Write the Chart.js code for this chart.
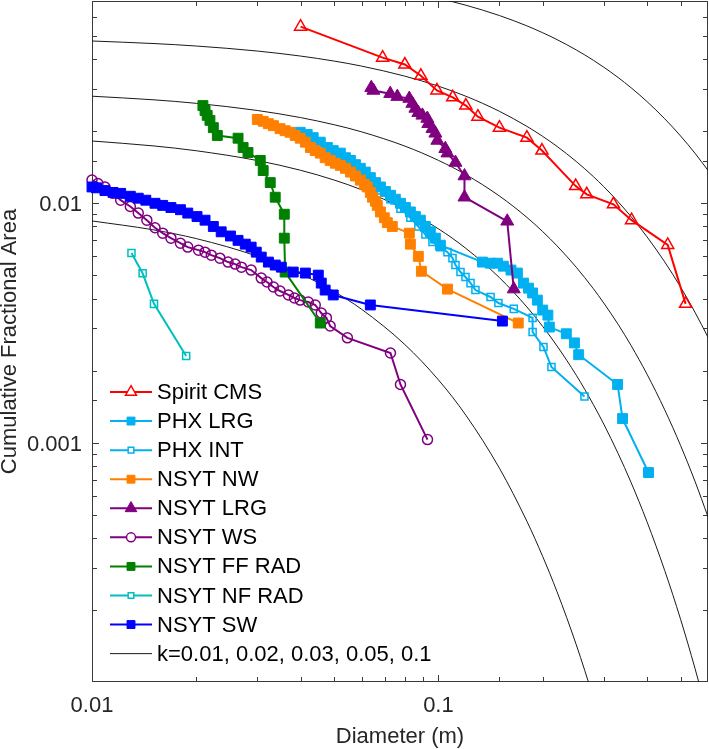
<!DOCTYPE html>
<html>
<head>
<meta charset="utf-8">
<script src="https://cdn.jsdelivr.net/npm/chart.js@4/dist/chart.umd.min.js"></script>
<style>
html,body{margin:0;padding:0;background:#ffffff;}
#wrap{width:709px;height:749px;position:relative;}
</style>
</head>
<body>
<div id="wrap"><canvas id="c" width="709" height="749"></canvas></div>
<script>
// ---------------- DATA ----------------
const seriesNames = ['Spirit CMS','PHX LRG','PHX INT','NSYT NW','NSYT LRG','NSYT WS','NSYT FF RAD','NSYT NF RAD','NSYT SW'];

const spiritD = [0.040,0.069,0.080,0.089,0.099,0.110,0.120,0.130,0.150,0.180,0.199,0.249,0.268,0.320,0.361,0.459,0.517];
const spiritF = [0.0547,0.0406,0.0380,0.0341,0.0296,0.0277,0.0256,0.0230,0.0207,0.0188,0.0166,0.0118,0.0109,0.0099,0.0085,0.0067,0.0038];

const phxLrgD = [0.0399,0.0418,0.0435,0.0456,0.0478,0.0497,0.0521,0.0539,0.0557,0.0576,0.0595,0.0615,0.0636,0.0658,0.0680,0.0703,0.0727,0.0751,0.0777,0.0803,0.0830,0.0858,0.0887,0.0917,0.0948,0.0980,0.1013,0.134,0.141,0.148,0.154,0.162,0.169,0.176,0.182,0.187,0.193,0.200,0.207,0.209,0.234,0.247,0.254,0.329,0.340,0.404];
const phxLrgF = [0.0198,0.0194,0.0188,0.0180,0.0171,0.0166,0.0162,0.0155,0.0151,0.0145,0.0140,0.0135,0.0128,0.0122,0.0117,0.0112,0.0108,0.0104,0.0100,0.0096,0.0092,0.0088,0.0085,0.0080,0.0076,0.00715,0.00668,0.00568,0.00562,0.00562,0.00546,0.00526,0.00511,0.00464,0.00442,0.00422,0.00394,0.00358,0.00341,0.00304,0.00285,0.00261,0.00233,0.00175,0.00126,0.00075];

const phxIntD = [0.0487,0.0521,0.0557,0.0595,0.0636,0.0680,0.0727,0.0777,0.0830,0.0875,0.0917,0.0961,0.1013,0.1062,0.1098,0.1120,0.1158,0.1197,0.1238,0.1279,0.1414,0.149,0.165,0.187,0.187,0.201,0.212,0.264];
const phxIntF = [0.0163,0.0154,0.0144,0.0133,0.0124,0.0113,0.0104,0.0095,0.0087,0.0080,0.0074,0.0069,0.00656,0.00625,0.0059,0.00552,0.00516,0.00492,0.00464,0.00434,0.00406,0.00383,0.00362,0.00332,0.0029,0.00251,0.00207,0.00156];

const nsytNwD = [0.0300,0.0312,0.0323,0.0334,0.0349,0.0361,0.0373,0.0386,0.0399,0.0413,0.0427,0.0441,0.0456,0.0471,0.0487,0.0504,0.0521,0.0539,0.0557,0.0576,0.0595,0.0611,0.0623,0.0636,0.0645,0.0658,0.0666,0.0680,0.0698,0.0712,0.0736,0.0824,0.0830,0.0875,0.0893,0.1062,0.170];
const nsytNwF = [0.0224,0.0220,0.0215,0.0211,0.0205,0.0201,0.0198,0.0192,0.0187,0.0180,0.0171,0.0166,0.0162,0.0155,0.0151,0.0147,0.0144,0.0140,0.0135,0.0130,0.0125,0.0120,0.0117,0.0111,0.0106,0.0102,0.0098,0.0092,0.0087,0.0083,0.0080,0.0075,0.00675,0.0060,0.0052,0.00438,0.00316];

const nsytLrgD = [0.0640,0.0649,0.0726,0.0761,0.0824,0.0841,0.0858,0.0875,0.0899,0.0929,0.0935,0.0961,0.0980,0.0993,0.1047,0.1062,0.1120,0.1189,0.1189,0.158,0.165];
const nsytLrgF = [0.0304,0.0296,0.0287,0.0279,0.0274,0.0261,0.0249,0.0239,0.0233,0.0226,0.0215,0.0205,0.0196,0.0183,0.0169,0.0162,0.0148,0.0130,0.0106,0.00841,0.00438];

const nsytWsD = [0.0100,0.0104,0.0109,0.0115,0.0121,0.0129,0.0136,0.0144,0.0152,0.0160,0.0169,0.0180,0.0189,0.0203,0.0212,0.0221,0.0234,0.0247,0.0259,0.0270,0.0288,0.0308,0.0320,0.0334,0.0349,0.0369,0.0384,0.0399,0.0421,0.0441,0.0459,0.0475,0.0487,0.0546,0.0727,0.0777,0.0930];
const nsytWsF = [0.0125,0.0121,0.0117,0.0110,0.0103,0.0097,0.0091,0.0085,0.0079,0.0075,0.00715,0.00681,0.00656,0.00637,0.00625,0.00607,0.0059,0.00568,0.00557,0.00541,0.00526,0.00487,0.00469,0.00447,0.0043,0.00414,0.00402,0.00394,0.00387,0.00376,0.00348,0.00332,0.00307,0.00274,0.00237,0.00175,0.00103];

const nsytFfD = [0.0209,0.0212,0.0215,0.0219,0.0224,0.0230,0.0264,0.0273,0.0282,0.0306,0.0312,0.0327,0.0338,0.0359,0.0359,0.0361,0.0456];
const nsytFfF = [0.0256,0.0244,0.0233,0.0222,0.0207,0.0192,0.0187,0.0171,0.0163,0.0151,0.0137,0.0122,0.0106,0.0090,0.00715,0.00516,0.00316];

const nsytNfD = [0.0130,0.0140,0.0151,0.0187];
const nsytNfF = [0.0062,0.0051,0.0038,0.0023];

const nsytSwD = [0.0100,0.0103,0.0109,0.0115,0.0121,0.0129,0.0136,0.0143,0.0152,0.0160,0.0169,0.0180,0.0189,0.0201,0.0212,0.0224,0.0236,0.0251,0.0264,0.0277,0.0288,0.0298,0.0308,0.0323,0.0338,0.0352,0.0381,0.0413,0.0450,0.0459,0.0471,0.0497,0.0636,0.153];
const nsytSwF = [0.0117,0.0116,0.0113,0.0111,0.0110,0.0107,0.0105,0.0103,0.0100,0.0098,0.0096,0.0094,0.0091,0.0088,0.0085,0.0080,0.0076,0.0073,0.0070,0.00675,0.00656,0.00625,0.00596,0.00568,0.00552,0.00541,0.00516,0.00511,0.00501,0.00464,0.00434,0.00414,0.00376,0.00322];

// model curves (k values), sampled diameters and cumulative fractional area
const kLabel = 'k=0.01, 0.02, 0.03, 0.05, 0.1';
const kD = [0.01,0.015,0.02,0.03,0.04,0.05,0.06,0.08,0.1,0.12,0.15,0.18,0.2,0.22,0.25,0.28,0.3,0.33,0.36,0.4,0.45,0.5,0.55,0.6];
const k001F = [0.008437,0.00775,0.007119,0.006007,0.005068,0.004276,0.003608,0.002569,0.001829,0.001302,0.000782,0.0004697,0.0003344,0.0002381,0.000143,0.0000859,0.0000612,0.0000367];
const k002F = [0.018208,0.017372,0.016576,0.01509,0.013738,0.012506,0.011386,0.009436,0.00782,0.006482,0.00489,0.00369,0.003058,0.002534,0.001912,0.001443,0.001196,0.000902,0.0006806,0.0004674,0.0002922,0.0001829,0.0001143,0.0000715];
const k003F = [0.028011,0.027069,0.026157,0.02442,0.022803,0.021291,0.019884,0.017334,0.015111,0.013176,0.010725,0.008733,0.007614,0.006639,0.005403,0.004398,0.003834,0.003123,0.002542,0.001932,0.001371,0.000973,0.0006906,0.0004902];
const k005F = [0.047643,0.046506,0.045396,0.043256,0.041216,0.039273,0.037421,0.033976,0.030847,0.028007,0.024228,0.02096,0.019031,0.017279,0.014947,0.012931,0.011741,0.010157,0.008787,0.007244,0.005689,0.004468,0.003509,0.002757];
const k01F = [0.096746,0.095156,0.093594,0.090547,0.0876,0.084747,0.081987,0.076738,0.071819,0.06722,0.060867,0.055115,0.051584,0.04828,0.043714,0.039583,0.037046,0.033546,0.030373,0.026609,0.022548,0.019109,0.016196,0.013722];

// axis ranges and labelled ticks
const xRange = [0.01, 0.6];
const yRange = [0.0001, 0.07];
const xTickLabels = [0.01, 0.1];
const yTickLabels = [0.001, 0.01];

// ---------------- STYLE ----------------
const FONT = '"Liberation Sans", Arial, Helvetica, sans-serif';
const TXT = '#262626';
const styles = [
  {color:'#FF0000', style:'triangle', r:7,   fill:false, bw:1.5},
  {color:'#00B0F0', style:'rect',     r:7,   fill:true,  bw:1},
  {color:'#00B0F0', style:'rect',     r:5,   fill:false, bw:1.5},
  {color:'#FF8000', style:'rect',     r:7,   fill:true,  bw:1},
  {color:'#800080', style:'triangle', r:7.5, fill:true,  bw:1},
  {color:'#800080', style:'circle',   r:5,   fill:false, bw:1.5},
  {color:'#008000', style:'rect',     r:7,   fill:true,  bw:1},
  {color:'#00BFBF', style:'rect',     r:5,   fill:false, bw:1.5},
  {color:'#0000FF', style:'rect',     r:7,   fill:true,  bw:1}
];
const seriesD = [spiritD, phxLrgD, phxIntD, nsytNwD, nsytLrgD, nsytWsD, nsytFfD, nsytNfD, nsytSwD];
const seriesF = [spiritF, phxLrgF, phxIntF, nsytNwF, nsytLrgF, nsytWsF, nsytFfF, nsytNfF, nsytSwF];
const kCurves = [k001F, k002F, k003F, k005F, k01F];

const datasets = [];
seriesNames.forEach((name, i) => {
  const s = styles[i];
  datasets.push({
    label: name,
    data: seriesD[i].map((d, j) => ({x: d, y: seriesF[i][j]})),
    showLine: true,
    borderColor: s.color,
    backgroundColor: s.color,
    borderWidth: 2,
    pointStyle: s.style,
    pointRadius: s.r,
    pointHoverRadius: s.r,
    pointBorderWidth: s.bw,
    pointBorderColor: s.color,
    pointBackgroundColor: s.fill ? s.color : 'rgba(0,0,0,0)',
    tension: 0,
    clip: false,
    order: 20 - i,
    _mk: s
  });
});
kCurves.forEach((F, i) => {
  datasets.push({
    label: i === 0 ? kLabel : '',
    data: F.map((f, j) => ({x: kD[j], y: f})),
    showLine: true,
    borderColor: '#1a1a1a',
    borderWidth: 1,
    pointRadius: 0,
    pointHoverRadius: 0,
    cubicInterpolationMode: 'monotone',
    order: 100,
    _k: true
  });
});

function isDecade(v){ const l = Math.log10(v); return Math.abs(l - Math.round(l)) < 1e-9; }
function fmt(v){ return v.toFixed(Math.max(0, -Math.round(Math.log10(v)))); }
function near(list, v){ return list.some(t => Math.abs(t - v) / t < 1e-6); }

function drawMarker(ctx, style, x, y, r){
  ctx.beginPath();
  if (style === 'triangle') {
    ctx.moveTo(x, y - r);
    ctx.lineTo(x + r * Math.sin(2*Math.PI/3), y - r * Math.cos(2*Math.PI/3));
    ctx.lineTo(x + r * Math.sin(4*Math.PI/3), y - r * Math.cos(4*Math.PI/3));
    ctx.closePath();
  } else if (style === 'rect') {
    const h = r * Math.SQRT1_2;
    ctx.rect(x - h, y - h, 2*h, 2*h);
  } else {
    ctx.arc(x, y, r, 0, Math.PI*2);
  }
}

const axisBox = {
  id: 'axisBox',
  beforeDatasetsDraw(chart){
    const {ctx, chartArea: a, scales: {x, y}} = chart;
    ctx.save();
    ctx.strokeStyle = '#3a3a3a';
    ctx.lineWidth = 1;
    ctx.strokeRect(a.left + 0.5, a.top + 0.5, a.right - a.left - 1, a.bottom - a.top - 1);
    ctx.beginPath();
    x.ticks.forEach(t => {
      const p = Math.round(x.getPixelForValue(t.value)) + 0.5;
      if (p <= a.left + 1 || p >= a.right - 1) return;
      const L = isDecade(t.value) ? 7 : 5;
      ctx.moveTo(p, a.bottom); ctx.lineTo(p, a.bottom - L);
      ctx.moveTo(p, a.top); ctx.lineTo(p, a.top + L);
    });
    y.ticks.forEach(t => {
      const p = Math.round(y.getPixelForValue(t.value)) + 0.5;
      if (p <= a.top + 1 || p >= a.bottom - 1) return;
      const L = isDecade(t.value) ? 7 : 5;
      ctx.moveTo(a.left, p); ctx.lineTo(a.left + L, p);
      ctx.moveTo(a.right, p); ctx.lineTo(a.right - L, p);
    });
    ctx.stroke();
    ctx.restore();
  }
};

const mLegend = {
  id: 'mLegend',
  afterDraw(chart){
    const ctx = chart.ctx;
    const entries = chart.data.datasets.filter(d => d.label);
    const x0 = 110, x1 = 152, xm = 131, tx = 157, y0 = 392, dy = 29.07;
    ctx.save();
    entries.forEach((d, i) => {
      const yy = y0 + i * dy;
      ctx.strokeStyle = d.borderColor;
      ctx.lineWidth = d.borderWidth;
      ctx.beginPath(); ctx.moveTo(x0, yy); ctx.lineTo(x1, yy); ctx.stroke();
      if (d._mk) {
        const s = d._mk;
        const r = s.style === 'rect' ? s.r * 0.8 : s.r * 0.9;
        drawMarker(ctx, s.style, xm, yy, r);
        if (s.fill) { ctx.fillStyle = s.color; ctx.fill(); }
        else { ctx.fillStyle = '#ffffff'; ctx.fill(); }
        ctx.lineWidth = s.bw; ctx.strokeStyle = s.color; ctx.stroke();
      }
      ctx.fillStyle = '#000000';
      ctx.font = '22px ' + FONT;
      ctx.textBaseline = 'middle';
      ctx.textAlign = 'left';
      ctx.fillText(d.label, tx, yy + 1);
    });
    ctx.restore();
  }
};

new Chart(document.getElementById('c'), {
  type: 'scatter',
  data: { datasets },
  plugins: [axisBox, mLegend],
  options: {
    responsive: false,
    devicePixelRatio: 1,
    animation: false,
    events: [],
    layout: { autoPadding: false, padding: { left: 0, right: 1, top: 1, bottom: 0 } },
    plugins: { legend: { display: false }, tooltip: { enabled: false } },
    scales: {
      x: {
        type: 'logarithmic', min: xRange[0], max: xRange[1],
        grid: { display: false, drawTicks: false },
        border: { display: false },
        ticks: {
          autoSkip: false, maxRotation: 0, minRotation: 0, padding: 11,
          color: TXT, font: { family: FONT, size: 22 },
          callback: (v) => near(xTickLabels, v) ? fmt(v) : ''
        },
        title: { display: true, text: 'Diameter (m)', color: TXT,
                 font: { family: FONT, size: 22, lineHeight: 0.9 }, padding: { top: 0, bottom: 2 } },
        afterFit(s){ s.height = 67; s.paddingLeft = 0; s.paddingRight = 0; }
      },
      y: {
        type: 'logarithmic', min: yRange[0], max: yRange[1],
        grid: { display: false, drawTicks: false },
        border: { display: false },
        ticks: {
          autoSkip: false, padding: 10, labelOffset: 2,
          color: TXT, font: { family: FONT, size: 22 },
          callback: (v) => near(yTickLabels, v) ? fmt(v) : ''
        },
        title: { display: true, text: 'Cumulative Fractional Area', color: TXT,
                 font: { family: FONT, size: 22, lineHeight: 0.9 }, padding: { top: 0, bottom: 0 } },
        afterFit(s){ s.width = 92; s.paddingTop = 0; s.paddingBottom = 0; }
      }
    }
  }
});
</script>
</body>
</html>
